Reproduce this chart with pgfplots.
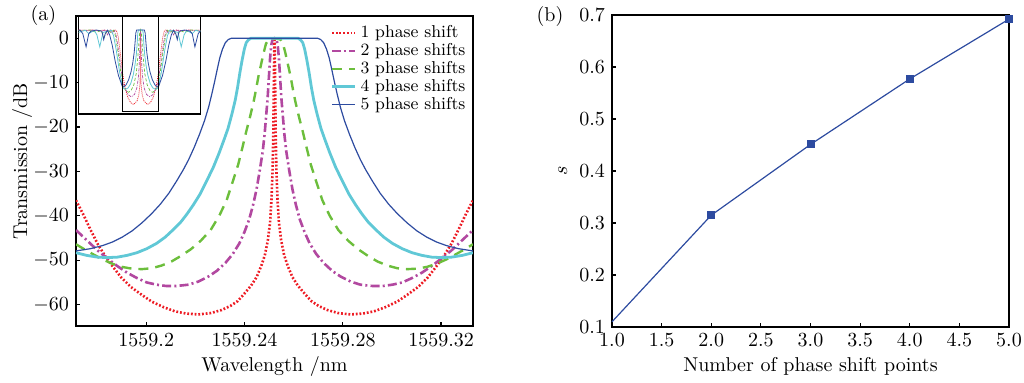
\documentclass[border=0pt]{standalone}
\usepackage{pgfplots}
\usepackage{pgfplotstable}
\pgfplotsset{compat=1.18}
\definecolor{cred}{RGB}{237,28,36}
\definecolor{cpur}{RGB}{178,72,160}
\definecolor{cgrn}{RGB}{108,190,60}
\definecolor{ccyn}{RGB}{96,200,214}
\definecolor{cblu}{RGB}{45,75,160}
% x = wavelength offset from the Bragg centre (1559.2522 nm), in pm
\pgfplotstableread{
x y
-80.8 -36.5
-78 -39.5
-75 -43
-72 -46.3
-69 -49
-66 -51.3
-62.5 -53.8
-58.5 -56
-54 -57.8
-50 -59.3
-45 -60.6
-40.5 -61.5
-36 -62
-31 -62.2
-26 -61.9
-21.5 -61.2
-18 -60.3
-15 -59.2
-12.7 -57.8
-9.5 -55.7
-7.3 -53.8
-5.4 -51.3
-3.9 -48.8
-2.7 -45.5
-1.8 -41.5
-1.2 -36
-0.8 -30
-0.5 -22
-0.3 -12
-0.15 -4
0 0
0.15 -4
0.3 -12
0.5 -22
0.8 -30
1.2 -36
1.8 -41.5
2.7 -45.5
3.9 -48.8
5.4 -51.3
7.3 -53.8
9.5 -55.7
12.7 -57.8
15 -59.2
18 -60.3
21.5 -61.2
26 -61.9
31 -62.2
36 -62
40.5 -61.5
45 -60.6
50 -59.3
54 -57.8
58.5 -56
62.5 -53.8
66 -51.3
69 -49
72 -46.3
75 -43
78 -39.5
80.8 -36.5
}\redtab
\pgfplotstableread{
x y
-80.8 -43.2
-76 -45.7
-72 -47.8
-68 -49.6
-64 -51.3
-60 -52.8
-56 -54
-52 -55
-48 -55.5
-44 -55.8
-40 -55.8
-35 -55.5
-31 -54.8
-27 -53.7
-23.5 -52.4
-20 -50.6
-17 -48.6
-14.3 -46.2
-12.2 -43.6
-10.3 -40.8
-8.7 -37.5
-7.3 -34
-6.0 -29.8
-4.8 -25.5
-4.0 -21.5
-3.4 -17.5
-2.8 -13.5
-2.3 -9
-1.8 -4.5
-1.3 -1.5
-0.8 -0.3
0 0
0.8 -0.3
1.3 -1.5
1.8 -4.5
2.3 -9
2.8 -13.5
3.4 -17.5
4.0 -21.5
4.8 -25.5
6.0 -29.8
7.3 -34
8.7 -37.5
10.3 -40.8
12.2 -43.6
14.3 -46.2
17 -48.6
20 -50.6
23.5 -52.4
27 -53.7
31 -54.8
35 -55.5
40 -55.8
44 -55.8
48 -55.5
52 -55
56 -54
60 -52.8
64 -51.3
68 -49.6
72 -47.8
76 -45.7
80.8 -43.2
}\purtab
\pgfplotstableread{
x y
-80.8 -46.4
-77.5 -47.5
-74 -48.6
-70 -49.8
-66 -50.8
-62 -51.5
-58 -51.9
-54 -52
-50 -51.8
-46 -51.2
-42 -50.3
-38 -49
-34 -47.5
-30 -45.6
-26 -43.2
-22.5 -40
-19.5 -36.5
-17 -32.3
-14.8 -28.5
-13 -24.5
-11.5 -21
-10 -17.8
-8.5 -14.3
-7.5 -11.5
-6.5 -8.5
-5.5 -6
-4.5 -3.5
-3.5 -1.3
-2.5 -0.3
0 0
2.5 -0.3
3.5 -1.3
4.5 -3.5
5.5 -6
6.5 -8.5
7.5 -11.5
8.5 -14.3
10 -17.8
11.5 -21
13 -24.5
14.8 -28.5
17 -32.3
19.5 -36.5
22.5 -40
26 -43.2
30 -45.6
34 -47.5
38 -49
42 -50.3
46 -51.2
50 -51.8
54 -52
58 -51.9
62 -51.5
66 -50.8
70 -49.8
74 -48.6
77.5 -47.5
80.8 -46.4
}\grntab
\pgfplotstableread{
x y
-80.8 -48.3
-76.5 -48.9
-72 -49.3
-68 -49.4
-64 -49.3
-60 -48.9
-56 -48.3
-52 -47.4
-48 -46.2
-44.5 -44.8
-41 -43
-38 -41.3
-35.5 -39.5
-33 -37.5
-30.4 -35.2
-27.5 -32
-25 -29.2
-22.5 -25.8
-20.5 -22.8
-18.9 -20.3
-17.3 -17
-16 -14
-15 -11
-14.1 -7.8
-13.2 -5
-12.3 -2.5
-11.5 -1
-10.5 -0.3
-9.5 0
9.5 0
10.5 -0.3
11.5 -1
12.3 -2.5
13.2 -5
14.1 -7.8
15 -11
16 -14
17.3 -17
18.9 -20.3
20.5 -22.8
22.5 -25.8
25 -29.2
27.5 -32
30.4 -35.2
33 -37.5
35.5 -39.5
38 -41.3
41 -43
44.5 -44.8
48 -46.2
52 -47.4
56 -48.3
60 -48.9
64 -49.3
68 -49.4
72 -49.3
76.5 -48.9
80.8 -48.3
}\cyntab
\pgfplotstableread{
x y
-80.8 -47.9
-75 -47.4
-70 -46.7
-66 -45.9
-62 -44.8
-58 -43.4
-54 -41.6
-50 -39.5
-46.5 -37.4
-43 -34.9
-40 -32.3
-37.2 -29.7
-35 -27.4
-32.7 -24.6
-30.5 -21.6
-28.5 -18.6
-26.8 -15.5
-25.4 -12.3
-24.3 -9.6
-23.3 -7
-22.3 -4.5
-21.2 -2.5
-20 -1
-18.8 -0.3
-17.5 0
17.5 0
18.8 -0.3
20 -1
21.2 -2.5
22.3 -4.5
23.3 -7
24.3 -9.6
25.4 -12.3
26.8 -15.5
28.5 -18.6
30.5 -21.6
32.7 -24.6
35 -27.4
37.2 -29.7
40 -32.3
43 -34.9
46.5 -37.4
50 -39.5
54 -41.6
58 -43.4
62 -44.8
66 -45.9
70 -46.7
75 -47.4
80.8 -47.9
}\blutab
% full-range spectra for the inset
\pgfplotstableread{
x y
-282 0
-250 -0.3
-220 0
-190 -0.5
-165 0
-150 -1
-135 0
-125 -1.5
-115 0
-108 -1
-102 -5
-95 -14
-88 -25
-80.8 -36.5
-70 -48
-58.5 -56
-45 -60.6
-31 -62.2
-15 -59
-7.3 -53.8
-2.7 -45.5
-1.2 -36
-0.5 -22
0 0
0.5 -22
1.2 -36
2.7 -45.5
7.3 -53.8
15 -59
31 -62.2
45 -60.6
58.5 -56
70 -48
80.8 -36.5
88 -25
95 -14
102 -5
108 -1
115 0
125 -1.5
135 0
150 -1
165 0
190 -0.5
220 0
250 -0.3
282 0
}\redin
\pgfplotstableread{
x y
-282 0
-240 -0.5
-210 0
-180 -1
-162 0
-150 -4
-138 -0.2
-128 -3
-118 -0.5
-110 -5
-100 -17
-90 -30
-80.8 -43.2
-68 -49.6
-56 -54
-42 -55.8
-27 -53.7
-17 -48.6
-10.3 -40.8
-6 -29.8
-3.4 -17.5
-1.8 -4.5
0 0
1.8 -4.5
3.4 -17.5
6 -29.8
10.3 -40.8
17 -48.6
27 -53.7
42 -55.8
56 -54
68 -49.6
80.8 -43.2
90 -30
100 -17
110 -5
118 -0.5
128 -3
138 -0.2
150 -4
162 0
180 -1
210 0
240 -0.5
282 0
}\purin
\pgfplotstableread{
x y
-282 -0.5
-230 0
-200 -2
-180 -0.3
-165 -6
-150 -0.1
-135 -2
-123 -0.2
-115 -4
-104 -16
-92 -32
-80.8 -46.4
-66 -50.8
-54 -52
-42 -50.3
-30 -45.6
-19.5 -36.5
-13 -24.5
-8.5 -14.3
-4.5 -3.5
0 0
4.5 -3.5
8.5 -14.3
13 -24.5
19.5 -36.5
30 -45.6
42 -50.3
54 -52
66 -50.8
80.8 -46.4
92 -32
104 -16
115 -4
123 -0.2
135 -2
150 -0.1
165 -6
180 -0.3
200 -2
230 0
282 -0.5
}\grnin
\pgfplotstableread{
x y
-282 -2
-250 -0.2
-235 -3
-210 -0.3
-198 -4
-185 -14
-170 -2
-150 -1
-132 -0.2
-122 -5
-110 -17
-95 -35
-80.8 -48.3
-68 -49.4
-56 -48.3
-44.5 -44.8
-33 -37.5
-25 -29.2
-18.9 -20.3
-15 -11
-12.3 -2.5
-9.5 0
9.5 0
12.3 -2.5
15 -11
18.9 -20.3
25 -29.2
33 -37.5
44.5 -44.8
56 -48.3
68 -49.4
80.8 -48.3
95 -35
110 -17
122 -5
132 -0.2
150 -1
170 -2
185 -14
198 -4
210 -0.3
235 -3
250 -0.2
282 -2
}\cynin
\pgfplotstableread{
x y
-282 -0.5
-275 0
-262 -3
-247 -14
-235 -3
-225 -1
-200 0
-175 -1
-167 -8
-160 -3
-150 -0.2
-140 -4
-128 -13
-115 -26
-100 -38
-80.8 -47.9
-66 -45.9
-54 -41.6
-43 -34.9
-35 -27.4
-28.5 -18.6
-24.3 -9.6
-21.2 -2.5
-17.5 0
17.5 0
21.2 -2.5
24.3 -9.6
28.5 -18.6
35 -27.4
43 -34.9
54 -41.6
66 -45.9
80.8 -47.9
100 -38
115 -26
128 -13
140 -4
150 -0.2
160 -3
167 -8
175 -1
200 0
225 -1
235 -3
247 -14
262 -3
275 0
282 -0.5
}\bluin
\pgfplotstableread{
n s
1 0.11
2 0.315
3 0.451
4 0.577
5 0.692
}\stab
\begin{document}
\begin{tikzpicture}
\path[use as bounding box] (-38pt,-28.5pt) rectangle (474pt,163pt);
\pgfplotsset{
  every axis/.append style={
    scale only axis,
    tick align=inside,
    tick pos=left,
    major tick length=2.2pt,
    axis line style={line width=0.9pt},
    every tick/.style={black, line width=0.6pt},
  },
  sred/.style={cred, line width=1.3pt, dash pattern=on 0.9pt off 0.95pt},
  spur/.style={cpur, line width=1.3pt, dash pattern=on 4.5pt off 1.6pt on 1pt off 1.6pt},
  sgrn/.style={cgrn, line width=1.2pt, dash pattern=on 5pt off 3.5pt},
  scyn/.style={ccyn, line width=1.4pt},
  sblu/.style={cblu, line width=0.6pt},
}
\begin{axis}[
  at={(0pt,0pt)}, anchor=south west,
  width=198.5pt, height=155pt,
  xmin=-80.8, xmax=80.8, ymin=-64.8, ymax=5,
  xtick={-52.2,-12.2,27.8,67.8},
  xticklabels={1559.2,1559.24,1559.28,1559.32},
  ytick={-60,-50,-40,-30,-20,-10,0},
  xlabel={Wavelength /nm},
  ylabel={Transmission /dB},
  xlabel style={at={(axis description cs:0.5,0)}, anchor=center, yshift=-20.3pt},
  ylabel style={at={(axis description cs:-0.136,0.53)}, anchor=center},
  legend style={draw=none, fill=none, at={(axis description cs:0.997,0.99)}, anchor=north east,
    font=\fontsize{8.6}{9}\selectfont, row sep=-2.6pt, inner sep=1pt},
  legend cell align=left,
  legend image code/.code={\draw[#1] (0pt,0pt) -- (11.5pt,0pt);},
]
\addplot[sred] table {\redtab};
\addlegendentry{1 phase shift}
\addplot[spur] table {\purtab};
\addlegendentry{2 phase shifts}
\addplot[sgrn] table {\grntab};
\addlegendentry{3 phase shifts}
\addplot[scyn] table {\cyntab};
\addlegendentry{4 phase shifts}
\addplot[sblu] table {\blutab};
\addlegendentry{5 phase shifts}
\end{axis}
\node at (-16.25pt,155pt) {(a)};
% inset
\begin{axis}[
  at={(1.25pt,106pt)}, anchor=south west,
  width=60.9pt, height=48.75pt,
  xmin=-281.5, xmax=271.5, ymin=-70.1, ymax=11.3,
  xtick=\empty, ytick=\empty,
  axis background/.style={fill=white},
  axis line style={line width=0.7pt},
]
\addplot[cred, line width=0.35pt, dash pattern=on 0.5pt off 0.5pt] table {\redin};
\addplot[cpur, line width=0.35pt, dash pattern=on 1.5pt off 0.6pt on 0.4pt off 0.6pt] table {\purin};
\addplot[cgrn, line width=0.35pt, dash pattern=on 1.5pt off 1pt] table {\grnin};
\addplot[ccyn, line width=0.4pt] table {\cynin};
\addplot[cblu, line width=0.4pt] table {\bluin};
\draw[black, line width=0.7pt] (axis cs:-80.8,11.3) rectangle (axis cs:80.8,-68.2);
\end{axis}
% right panel
\begin{axis}[
  at={(268pt,-0.5pt)}, anchor=south west,
  width=198.5pt, height=156pt,
  xmin=1, xmax=5, ymin=0.1, ymax=0.7,
  xtick={1,1.5,2,2.5,3,3.5,4,4.5,5},
  ytick={0.1,0.2,0.3,0.4,0.5,0.6,0.7},
  xticklabel style={/pgf/number format/.cd, fixed, fixed zerofill, precision=1},
  yticklabel style={/pgf/number format/.cd, fixed, fixed zerofill, precision=1},
  xlabel={Number of phase shift points},
  ylabel={$s$},
  xlabel style={at={(axis description cs:0.5,0)}, anchor=center, yshift=-19.8pt},
  ylabel style={at={(axis description cs:-0.124,0.5)}, anchor=center},
  clip=false,
]
\addplot[cblu, line width=0.6pt, mark=square*, mark size=1.7pt, mark indices={2,3,4,5},
  mark options={solid, fill=cblu}] table {\stab};
\end{axis}
\node at (237pt,154.75pt) {(b)};
\end{tikzpicture}
\end{document}
